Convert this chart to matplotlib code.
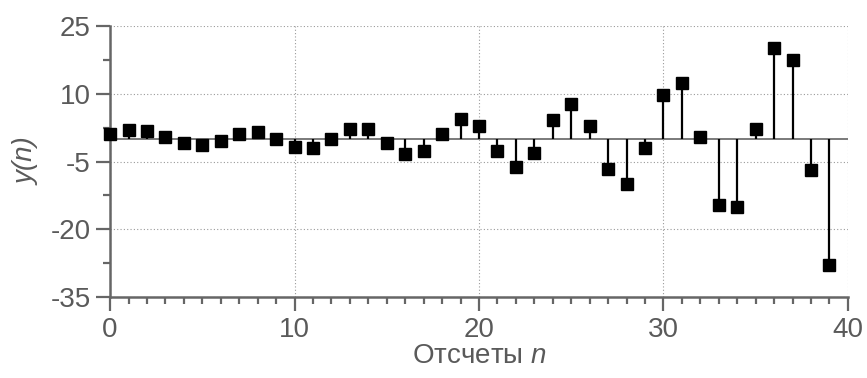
import numpy as np
import matplotlib.pyplot as plt
from matplotlib.ticker import MultipleLocator, FixedLocator

plt.rcParams['font.family'] = ['Liberation Sans', 'DejaVu Sans']
plt.rcParams['mathtext.fontset'] = 'custom'
plt.rcParams['mathtext.rm'] = 'Liberation Sans'
plt.rcParams['mathtext.it'] = 'Liberation Sans:italic'
plt.rcParams['axes.unicode_minus'] = False

n = np.arange(40)
y = [1.0, 2.0, 1.8, 0.5, -0.8, -1.3, -0.4, 1.2, 1.5, 0.1,
     -1.7, -1.9, 0.1, 2.3, 2.2, -0.8, -3.3, -2.6, 1.2, 4.4,
     2.9, -2.6, -6.1, -3.1, 4.2, 7.7, 2.8, -6.7, -10.0, -2.0,
     9.8, 12.4, 0.5, -14.6, -15.0, 2.2, 20.2, 17.5, -6.8, -27.9]

xticks = [0, 10, 20, 30, 40]
yticks = [-35, -20, -5, 10, 25]
yminor = [-27.5, -12.5, 2.5, 17.5]

gray = '#666666'
txt = '#5a5a5a'

fig = plt.figure(figsize=(8.67, 3.78), dpi=100)
ax = fig.add_axes([0.127, 0.214, 0.851, 0.717])

ax.plot([0, 40], [0, 0], color='#707070', lw=1.3, zorder=1)
ax.vlines(n, 0, y, color='black', lw=1.6, zorder=2)
ax.plot(n, y, 's', color='black', ms=8.5, zorder=3, clip_on=False)

ax.set_xlim(0, 40)
ax.set_ylim(-35, 25)
ax.set_xticks(xticks)
ax.set_yticks(yticks)
ax.xaxis.set_minor_locator(MultipleLocator(1))
ax.yaxis.set_minor_locator(FixedLocator(yminor))

ax.grid(True, which='major', linestyle=(0, (1, 2)), color='#9a9a9a', lw=0.8)

for s in ['top', 'right']:
    ax.spines[s].set_visible(False)
for s in ['left', 'bottom']:
    ax.spines[s].set_color(gray)
    ax.spines[s].set_linewidth(1.8)

ax.tick_params(which='major', length=10, width=1.6, color=gray,
               labelsize=20, labelcolor=txt, pad=4)
ax.tick_params(which='minor', length=5, width=1.6, color=gray)

ax.set_xlabel('Отсчеты $n$', fontsize=20, color=txt, labelpad=0)
ax.set_ylabel('y(n)', fontsize=20, color=txt, style='italic', labelpad=8)

fig.savefig('out.png', dpi=100)
